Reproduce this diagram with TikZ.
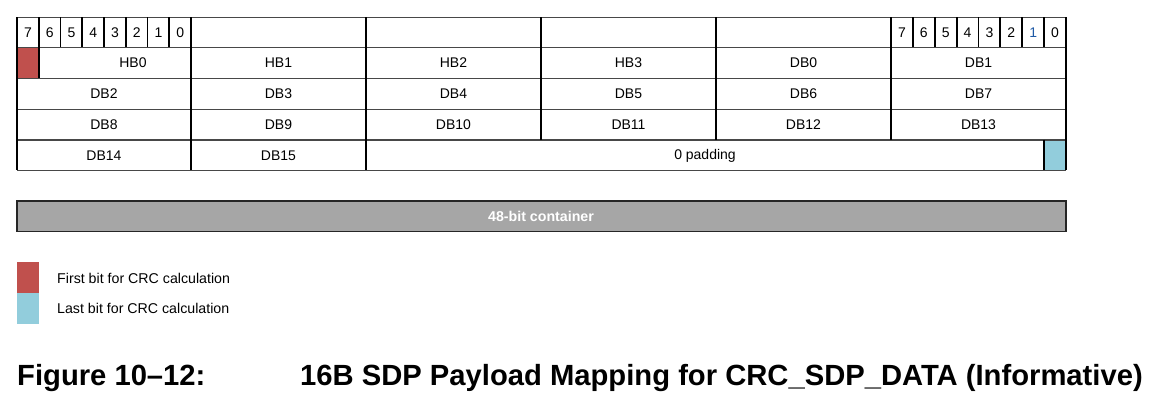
\documentclass[tikz,border=0pt]{standalone}
\usepackage{fontspec}
\setmainfont{Liberation Sans}
\definecolor{crcred}{HTML}{C0504D}
\definecolor{crcblue}{HTML}{92CDDC}
\definecolor{contgray}{HTML}{A6A6A6}
\definecolor{bitblue}{HTML}{1F5AA6}
\begin{document}
\begin{tikzpicture}[x=1pt,y=-1pt,
  vline/.style={line width=1.8pt,black},
  hline/.style={line width=1.2pt,black!72},
  lbl/.style={font=\fontsize{14}{16}\selectfont,inner sep=0pt},
  legtext/.style={font=\fontsize{14.2}{16}\selectfont,inner sep=0pt,anchor=west},
  captext/.style={font=\fontsize{29.2}{31}\selectfont\bfseries,inner sep=0pt,anchor=base west}]
\useasboundingbox (0,0) rectangle (1159,406);
% coloured cells
\fill[crcred] (17,47.5) rectangle (39,78.5);
\fill[crcblue] (1044,140) rectangle (1066,170.5);
% horizontal lines
\foreach \y in {17.5,47.5,78.5,109.5,140,170.5}
  \draw[hline] (17,\y) -- (1066,\y);
% vertical lines
\foreach \x in {17,191,366,1066}
  \draw[vline] (\x,17.5) -- (\x,170.5);
\foreach \x in {541,716,891}
  \draw[vline] (\x,17.5) -- (\x,140);
\draw[vline] (1044,140) -- (1044,170.5);
\draw[vline] (39,47.5) -- (39,78.5);
\foreach \i in {1,...,7}{
  \draw[vline] (17+\i*21.75,17.5) -- (17+\i*21.75,47.5);
  \draw[vline] (891+\i*21.875,17.5) -- (891+\i*21.875,47.5);
}
% bit numbers
\foreach \i in {0,...,7}{
  \pgfmathtruncatemacro{\b}{7-\i}
  \node[lbl] (lb\b) at (17+\i*21.75+10.9,32.5) {\b};
}
\foreach \i in {0,...,5,7}{
  \pgfmathtruncatemacro{\b}{7-\i}
  \node[lbl] (rb\b) at (891+\i*21.875+10.9,32.5) {\b};
}
\node[lbl,text=bitblue] (rb1) at (891+6*21.875+10.9,32.5) {1};
% row 2
\node[lbl] (hb0) at (133,63) {HB0};
\node[lbl] (hb1) at (278.5,63) {HB1};
\node[lbl] (hb2) at (453.5,63) {HB2};
\node[lbl] (hb3) at (628.5,63) {HB3};
\node[lbl] (db0) at (803.5,63) {DB0};
\node[lbl] (db1) at (978.5,63) {DB1};
% row 3
\node[lbl] (db2) at (104,94) {DB2};
\node[lbl] (db3) at (278.5,94) {DB3};
\node[lbl] (db4) at (453.5,94) {DB4};
\node[lbl] (db5) at (628.5,94) {DB5};
\node[lbl] (db6) at (803.5,94) {DB6};
\node[lbl] (db7) at (978.5,94) {DB7};
% row 4
\node[lbl] (db8) at (104,125) {DB8};
\node[lbl] (db9) at (278.5,125) {DB9};
\node[lbl] (db10) at (453.5,125) {DB10};
\node[lbl] (db11) at (628.5,125) {DB11};
\node[lbl] (db12) at (803.5,125) {DB12};
\node[lbl] (db13) at (978.5,125) {DB13};
% row 5
\node[lbl] (db14) at (104,155.5) {DB14};
\node[lbl] (db15) at (278.5,155.5) {DB15};
\node[lbl] (pad) at (705,155.5) {0 padding};
% container
\draw[fill=contgray,draw=black!85,line width=1.2pt] (17,201) rectangle (1066,231.5);
\node[lbl,font=\fontsize{14.2}{16}\selectfont\bfseries,text=white] (cont) at (541,216) {48-bit container};
% legend
\fill[crcred] (17,262) rectangle (39,292.7);
\fill[crcblue] (17,292.7) rectangle (39,323.7);
\node[legtext] (legfirst) at (57,278) {First bit for CRC calculation};
\node[legtext] (leglast) at (57,308) {Last bit for CRC calculation};
% caption
\node[captext] (capnum) at (17,385) {Figure 10–12:};
\node[captext] (captitle) at (300,385) {16B SDP Payload Mapping for CRC\_SDP\_DATA (Informative)};
\end{tikzpicture}
\end{document}
